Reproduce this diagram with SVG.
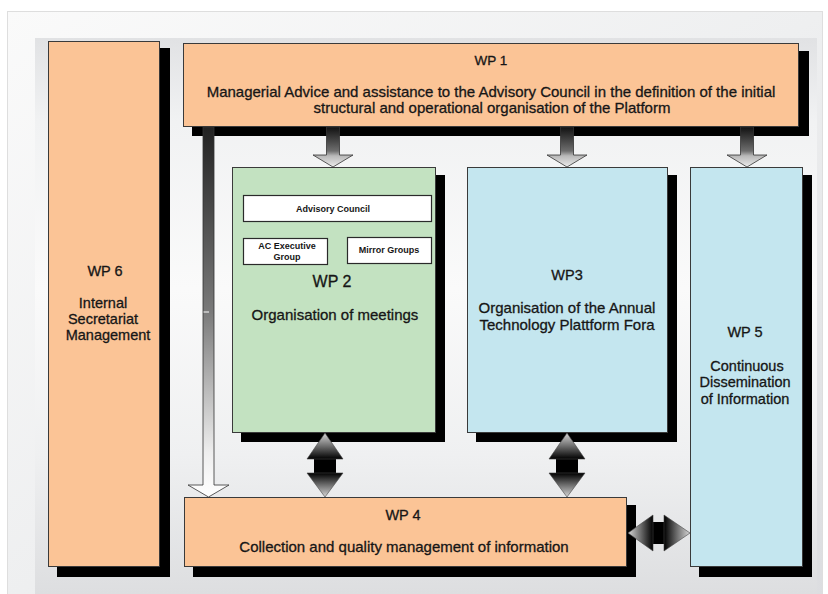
<svg xmlns="http://www.w3.org/2000/svg" width="828" height="594" viewBox="0 0 828 594">
  <defs>
    <linearGradient id="bgOuter" x1="0" y1="0" x2="1" y2="1">
      <stop offset="0" stop-color="#fafafa"/>
      <stop offset="0.5" stop-color="#eeeff0"/>
      <stop offset="1" stop-color="#dcdde0"/>
    </linearGradient>
    <linearGradient id="bgInner" x1="0" y1="0" x2="0" y2="1">
      <stop offset="0" stop-color="#e1e2e4"/>
      <stop offset="0.15" stop-color="#f1f2f3"/>
      <stop offset="0.45" stop-color="#fafafa"/>
      <stop offset="0.75" stop-color="#eff0f1"/>
      <stop offset="1" stop-color="#dddee0"/>
    </linearGradient>
    <linearGradient id="gTop" x1="0" y1="0" x2="0" y2="1">
      <stop offset="0" stop-color="#111"/>
      <stop offset="0.6" stop-color="#6e6e6e"/>
      <stop offset="0.72" stop-color="#b8b8b8"/>
      <stop offset="1" stop-color="#ececec"/>
    </linearGradient>
    <linearGradient id="gLong" x1="0" y1="0" x2="0" y2="1">
      <stop offset="0" stop-color="#222"/>
      <stop offset="0.5" stop-color="#7a7a7a"/>
      <stop offset="0.88" stop-color="#eeeeee"/>
      <stop offset="1" stop-color="#ffffff"/>
    </linearGradient>
    <linearGradient id="gUp" x1="0" y1="0" x2="0" y2="1">
      <stop offset="0" stop-color="#d6d6d6"/>
      <stop offset="0.5" stop-color="#6e6e6e"/>
      <stop offset="1" stop-color="#000"/>
    </linearGradient>
    <linearGradient id="gDown" x1="0" y1="0" x2="0" y2="1">
      <stop offset="0" stop-color="#000"/>
      <stop offset="0.5" stop-color="#6e6e6e"/>
      <stop offset="1" stop-color="#d6d6d6"/>
    </linearGradient>
    <linearGradient id="gLeftH" x1="0" y1="0" x2="1" y2="0">
      <stop offset="0" stop-color="#d6d6d6"/>
      <stop offset="0.5" stop-color="#6e6e6e"/>
      <stop offset="1" stop-color="#000"/>
    </linearGradient>
    <linearGradient id="gRightH" x1="0" y1="0" x2="1" y2="0">
      <stop offset="0" stop-color="#000"/>
      <stop offset="0.5" stop-color="#6e6e6e"/>
      <stop offset="1" stop-color="#d6d6d6"/>
    </linearGradient>
  </defs>
  <style>
    .box { stroke:#3a3a3a; stroke-width:1; }
    .shadow { fill:#000; }
    .orange { fill:#fbc496; }
    .green { fill:#c3e2c1; }
    .blue { fill:#c4e6ef; }
    .white { fill:#ffffff; stroke:#2a2a2a; stroke-width:1.2; }
    .t { font-family:"Liberation Sans", Arial, sans-serif; fill:#161616; text-anchor:middle; stroke:#161616; stroke-width:0.3; }
    .h { font-size:14.5px; }
    .b { font-size:15px; }
    .m { font-size:14.5px; }
    .s { font-size:9px; font-weight:bold; stroke-width:0; }
    .arr { stroke:#333; stroke-width:0.8; stroke-linejoin:miter; }
    .dbl { stroke:#444; stroke-width:0.6; }
  </style>

  <!-- background -->
  <rect x="7.5" y="11.5" width="815" height="590" fill="url(#bgOuter)" stroke="#dedede" stroke-width="1"/>
  <rect x="35" y="38" width="782" height="556" fill="url(#bgInner)"/>

  <!-- WP6 -->
  <g id="wp6">
    <rect class="shadow" x="57" y="48" width="113" height="529"/>
    <rect class="box orange" x="48.5" y="41.5" width="111" height="525"/>
    <text class="t h" x="105" y="276">WP 6</text>
    <text class="t m" x="103" y="308">Internal</text>
    <text class="t m" x="103" y="324">Secretariat</text>
    <text class="t m" x="108" y="340">Management</text>
  </g>

  <!-- WP1 -->
  <g id="wp1">
    <rect class="shadow" x="192" y="51" width="617" height="85"/>
    <rect class="box orange" x="183.5" y="43.5" width="615" height="83"/>
    <text class="t" style="font-size:13.5px" x="491" y="65">WP 1</text>
    <text class="t b" x="491" y="97">Managerial Advice and assistance to the Advisory Council in the definition of the initial</text>
    <text class="t b" x="492" y="113">structural and operational organisation of the Platform</text>
  </g>

  <!-- WP2 -->
  <g id="wp2">
    <rect class="shadow" x="241" y="175" width="204" height="267"/>
    <rect class="box green" x="232.5" y="167.5" width="203" height="265"/>
    <text class="t" style="font-size:16px" x="332" y="287">WP 2</text>
    <text class="t b" x="335" y="320">Organisation of meetings</text>
  </g>
  <g id="advisory-council">
    <rect class="white" x="243.5" y="195.5" width="188" height="26"/>
    <text class="t s" x="333" y="212">Advisory Council</text>
  </g>
  <g id="ac-executive-group">
    <rect class="white" x="243.5" y="238.5" width="84" height="26"/>
    <text class="t s" x="287" y="249">AC Executive</text>
    <text class="t s" x="287" y="260">Group</text>
  </g>
  <g id="mirror-groups">
    <rect class="white" x="347.5" y="237.5" width="84" height="26"/>
    <text class="t s" x="389" y="253">Mirror Groups</text>
  </g>

  <!-- WP3 -->
  <g id="wp3">
    <rect class="shadow" x="476" y="175" width="201" height="267"/>
    <rect class="box blue" x="467.5" y="167.5" width="200" height="265"/>
    <text class="t h" x="567" y="280">WP3</text>
    <text class="t b" x="567" y="313">Organisation of the Annual</text>
    <text class="t b" x="567" y="330">Technology Plattform Fora</text>
  </g>

  <!-- WP5 -->
  <g id="wp5">
    <rect class="shadow" x="699" y="175" width="113" height="402"/>
    <rect class="box blue" x="690.5" y="167.5" width="112" height="399"/>
    <text class="t h" x="745" y="337">WP 5</text>
    <text class="t m" x="747" y="371">Continuous</text>
    <text class="t m" x="745" y="387">Dissemination</text>
    <text class="t m" x="745" y="404">of Information</text>
  </g>

  <!-- WP4 -->
  <g id="wp4">
    <rect class="shadow" x="193" y="505" width="443" height="72"/>
    <rect class="box orange" x="184.5" y="497.5" width="442" height="69"/>
    <text class="t h" x="403" y="520">WP 4</text>
    <text class="t b" x="404" y="552">Collection and quality management of information</text>
  </g>

  <!-- connectors -->
  <g id="connectors">
    <path class="arr" fill="url(#gTop)" d="M326.5,127 V155 H313 L333,167 L353,155 H339.5 V127 Z"/>
    <path class="arr" fill="url(#gTop)" d="M560.5,127 V155 H547 L567,167 L587,155 H573.5 V127 Z"/>
    <path class="arr" fill="url(#gTop)" d="M740.5,127 V155 H727 L747,167 L767,155 H753.5 V127 Z"/>
    <path class="arr" fill="url(#gLong)" d="M203,127 V485 H188 L208.5,497 L229,485 H214 V127 Z"/>
    <line x1="203.5" y1="312" x2="209" y2="312" stroke="#ffffff" stroke-width="1"/>
    <g>
      <rect x="314" y="458" width="22" height="16" fill="#000"/>
      <path class="dbl" fill="url(#gUp)" d="M325,433 L343,459 H307 Z"/>
      <path class="dbl" fill="url(#gDown)" d="M307,473 H343 L325,497 Z"/>
    </g>
    <g>
      <rect x="556" y="458" width="22" height="16" fill="#000"/>
      <path class="dbl" fill="url(#gUp)" d="M567,433 L585,459 H549 Z"/>
      <path class="dbl" fill="url(#gDown)" d="M549,473 H585 L567,497 Z"/>
    </g>
    <g>
      <rect x="652" y="522" width="13" height="22" fill="#000"/>
      <path class="dbl" fill="url(#gLeftH)" d="M628,533 L653,515 V551 Z"/>
      <path class="dbl" fill="url(#gRightH)" d="M664,515 L690,533 L664,551 Z"/>
    </g>
  </g>
</svg>
